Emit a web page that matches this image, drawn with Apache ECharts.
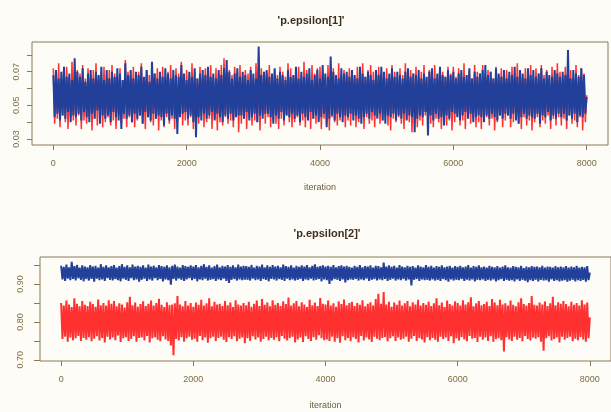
<!DOCTYPE html>
<html>
<head>
<meta charset="utf-8">
<title>trace plots</title>
<script src="https://cdn.jsdelivr.net/npm/echarts@6/dist/echarts.min.js"></script>
<style>
  html, body { margin: 0; padding: 0; background: #fdfcf7; }
  #main { width: 611px; height: 412px; }
</style>
</head>
<body>
<div id="main"></div>
<script>
// thinned chains, one value every 20 iterations (0 .. 8000)
const thin = 20;
const xTicks = [0, 2000, 4000, 6000, 8000];

const eps1Ticks = [0.03, 0.04, 0.05, 0.06, 0.07, 0.08];
const eps1Labels = [0.03, 0.05, 0.07];
const eps2Ticks = [0.70, 0.75, 0.80, 0.85, 0.90, 0.95];
const eps2Labels = [0.70, 0.80, 0.90];

const eps1Red = [
  .072,.039,.068,.042,.075,.037,.066,.044,.070,.040,.073,.036,.067,.043,.076,.041,.065,.038,.071,.044,
  .069,.036,.074,.041,.066,.039,.072,.043,.068,.035,.071,.042,.075,.038,.067,.044,.070,.037,.073,.040,
  .066,.043,.071,.038,.074,.041,.069,.036,.067,.044,.072,.039,.065,.042,.077,.037,.070,.043,.068,.040,
  .073,.037,.067,.041,.070,.044,.075,.039,.066,.036,.071,.043,.068,.040,.074,.038,.069,.042,.072,.035,
  .068,.041,.073,.037,.066,.043,.070,.039,.074,.042,.067,.036,.072,.040,.069,.044,.076,.038,.065,.041,
  .071,.038,.068,.043,.075,.036,.070,.041,.066,.039,.073,.044,.067,.037,.072,.040,.069,.042,.074,.036,
  .067,.042,.072,.035,.069,.040,.074,.038,.078,.043,.066,.039,.071,.041,.068,.037,.073,.044,.070,.034,
  .074,.039,.067,.042,.071,.036,.069,.043,.073,.038,.066,.041,.075,.040,.068,.035,.072,.044,.070,.039,
  .069,.043,.074,.037,.066,.041,.071,.039,.068,.036,.073,.042,.070,.038,.067,.044,.075,.040,.072,.037,
  .066,.040,.070,.043,.073,.038,.068,.041,.076,.037,.071,.044,.067,.036,.074,.042,.069,.039,.072,.041,
  .073,.036,.069,.042,.067,.039,.074,.035,.070,.043,.072,.040,.066,.038,.075,.041,.068,.044,.071,.037,
  .068,.041,.072,.038,.070,.044,.066,.037,.073,.040,.069,.042,.075,.036,.067,.043,.071,.039,.074,.041,
  .070,.037,.067,.043,.073,.039,.069,.041,.066,.044,.072,.038,.068,.035,.074,.042,.070,.040,.067,.043,
  .072,.039,.068,.036,.075,.042,.066,.040,.071,.034,.069,.043,.073,.037,.067,.041,.070,.038,.074,.044,
  .066,.043,.071,.039,.069,.037,.074,.042,.068,.040,.072,.036,.070,.044,.067,.038,.073,.041,.069,.035,
  .073,.040,.067,.044,.072,.038,.069,.041,.075,.036,.068,.043,.071,.039,.066,.042,.074,.037,.070,.040,
  .069,.036,.074,.041,.067,.043,.071,.038,.070,.042,.066,.035,.073,.040,.068,.044,.072,.037,.069,.041,
  .071,.044,.068,.037,.073,.040,.066,.042,.075,.039,.070,.036,.067,.043,.072,.038,.069,.041,.074,.035,
  .067,.040,.072,.043,.069,.037,.074,.041,.068,.039,.071,.044,.066,.036,.073,.042,.070,.038,.075,.043,
  .070,.038,.067,.042,.073,.036,.069,.044,.071,.039,.066,.041,.074,.037,.068,.043,.072,.035,.069,.040,
  .056
];
const eps1Blue = [
  .068,.043,.071,.045,.066,.041,.070,.044,.073,.042,.067,.046,.069,.040,.065,.044,.078,.043,.070,.045,
  .067,.041,.072,.046,.064,.043,.069,.040,.071,.045,.066,.042,.070,.047,.068,.039,.073,.044,.065,.042,
  .071,.044,.066,.040,.070,.046,.067,.043,.072,.041,.069,.036,.065,.045,.075,.042,.068,.044,.071,.040,
  .066,.045,.070,.042,.068,.044,.073,.039,.067,.046,.071,.043,.064,.041,.076,.045,.069,.042,.066,.044,
  .070,.043,.067,.038,.072,.045,.069,.041,.066,.044,.071,.042,.068,.033,.067,.043,.074,.045,.069,.046,
  .065,.042,.070,.044,.067,.040,.072,.031,.066,.043,.069,.041,.071,.045,.068,.042,.073,.044,.067,.046,
  .069,.041,.066,.045,.071,.043,.068,.040,.072,.044,.077,.042,.070,.045,.066,.041,.069,.043,.072,.044,
  .067,.044,.070,.042,.068,.046,.065,.041,.071,.043,.069,.045,.066,.040,.085,.044,.068,.042,.070,.045,
  .071,.045,.067,.043,.069,.039,.072,.044,.066,.042,.070,.046,.068,.041,.065,.044,.071,.043,.067,.045,
  .068,.042,.073,.044,.066,.040,.070,.045,.067,.043,.069,.041,.072,.046,.065,.042,.068,.044,.071,.040,
  .066,.043,.074,.045,.069,.037,.067,.042,.079,.044,.070,.041,.068,.045,.066,.043,.072,.040,.069,.044,
  .070,.043,.067,.045,.071,.041,.068,.044,.066,.042,.073,.039,.069,.043,.067,.045,.070,.042,.068,.046,
  .065,.044,.071,.042,.068,.045,.073,.041,.070,.039,.066,.044,.069,.043,.072,.045,.067,.041,.070,.044,
  .068,.042,.066,.045,.070,.041,.072,.044,.067,.043,.069,.034,.068,.042,.071,.044,.066,.043,.069,.046,
  .067,.032,.070,.044,.072,.041,.066,.045,.069,.042,.073,.043,.068,.038,.067,.044,.071,.042,.068,.046,
  .070,.045,.066,.043,.069,.041,.071,.044,.067,.046,.068,.042,.072,.045,.066,.040,.070,.043,.067,.044,
  .069,.043,.071,.040,.074,.044,.068,.042,.070,.045,.066,.043,.072,.041,.069,.044,.067,.042,.071,.045,
  .066,.044,.070,.042,.068,.045,.073,.041,.067,.039,.071,.043,.069,.045,.066,.042,.072,.044,.068,.043,
  .071,.042,.067,.045,.069,.039,.072,.044,.066,.043,.070,.046,.068,.041,.067,.044,.071,.042,.069,.045,
  .067,.043,.070,.045,.068,.041,.083,.044,.066,.042,.071,.045,.069,.040,.067,.044,.072,.043,.068,.045,
  .055
];
const eps2Blue = [
  .948,.912,.945,.908,.951,.914,.944,.910,.958,.913,.947,.909,.950,.915,.943,.911,.949,.907,.946,.913,
  .944,.909,.950,.913,.946,.906,.948,.914,.943,.910,.952,.912,.945,.908,.949,.915,.944,.911,.947,.909,
  .950,.913,.943,.910,.947,.907,.952,.914,.945,.911,.949,.908,.944,.915,.951,.910,.946,.912,.948,.906,
  .945,.911,.949,.914,.943,.908,.951,.912,.946,.909,.948,.915,.944,.910,.950,.913,.947,.907,.945,.912,
  .949,.910,.944,.898,.948,.913,.951,.909,.946,.914,.943,.911,.950,.908,.947,.912,.945,.915,.949,.910,
  .946,.913,.950,.907,.944,.912,.948,.910,.952,.914,.945,.909,.949,.911,.943,.913,.947,.908,.951,.912,
  .944,.910,.948,.914,.946,.908,.950,.903,.945,.911,.949,.913,.944,.909,.951,.912,.946,.910,.948,.911,
  .947,.911,.945,.909,.950,.914,.943,.910,.948,.912,.946,.908,.951,.913,.944,.911,.949,.907,.945,.913,
  .950,.912,.946,.909,.948,.913,.944,.911,.951,.908,.947,.914,.945,.910,.949,.912,.943,.909,.948,.911,
  .945,.913,.949,.908,.946,.912,.950,.910,.944,.914,.948,.909,.952,.911,.945,.913,.947,.907,.949,.912,
  .946,.910,.948,.900,.945,.909,.950,.913,.944,.911,.947,.908,.949,.912,.946,.904,.948,.910,.945,.912,
  .943,.911,.948,.913,.945,.909,.950,.912,.944,.910,.947,.914,.946,.908,.949,.911,.943,.913,.948,.909,
  .947,.912,.944,.910,.956,.913,.946,.908,.949,.911,.945,.914,.948,.909,.943,.912,.950,.910,.946,.913,
  .944,.909,.948,.912,.945,.896,.947,.911,.943,.913,.949,.908,.946,.912,.944,.910,.950,.911,.945,.909,
  .948,.912,.943,.909,.947,.911,.945,.908,.949,.913,.944,.910,.946,.906,.948,.912,.943,.909,.947,.911,
  .945,.910,.948,.913,.944,.908,.946,.911,.950,.909,.943,.912,.947,.907,.945,.911,.949,.910,.944,.912,
  .946,.908,.943,.911,.948,.909,.945,.912,.944,.907,.947,.910,.943,.913,.946,.908,.949,.911,.944,.909,
  .943,.910,.947,.907,.945,.912,.944,.908,.948,.911,.942,.909,.946,.905,.944,.910,.947,.908,.945,.911,
  .946,.907,.944,.911,.948,.909,.943,.910,.946,.906,.945,.912,.943,.908,.947,.910,.944,.907,.946,.909,
  .944,.910,.947,.906,.943,.909,.946,.911,.944,.907,.948,.910,.943,.908,.945,.911,.944,.906,.947,.910,
  .930
];
const eps2Red = [
  .850,.755,.843,.761,.856,.748,.846,.759,.839,.752,.862,.757,.848,.763,.841,.750,.855,.758,.845,.753,
  .842,.760,.853,.749,.847,.756,.840,.762,.859,.751,.844,.758,.850,.746,.843,.761,.857,.754,.848,.759,
  .855,.752,.841,.764,.849,.747,.846,.757,.838,.760,.852,.750,.866,.755,.844,.762,.851,.748,.840,.758,
  .847,.759,.854,.751,.842,.763,.848,.746,.856,.757,.843,.760,.850,.753,.861,.749,.845,.762,.839,.754,
  .852,.750,.844,.738,.846,.712,.849,.755,.868,.751,.846,.760,.841,.748,.855,.757,.843,.761,.850,.753,
  .840,.756,.851,.748,.845,.763,.858,.752,.843,.759,.849,.745,.862,.757,.841,.761,.853,.750,.846,.758,
  .848,.761,.842,.753,.855,.747,.844,.760,.851,.755,.839,.762,.857,.749,.846,.756,.843,.759,.850,.744,
  .844,.757,.853,.750,.840,.762,.848,.754,.856,.759,.842,.748,.860,.755,.845,.761,.851,.752,.841,.758,
  .857,.753,.845,.760,.850,.749,.842,.763,.854,.756,.847,.751,.864,.758,.843,.761,.849,.746,.855,.754,
  .841,.759,.852,.747,.846,.762,.839,.755,.858,.750,.844,.760,.851,.753,.842,.765,.863,.757,.848,.752,
  .846,.754,.856,.750,.843,.761,.849,.748,.840,.757,.854,.745,.847,.762,.859,.752,.844,.758,.850,.749,
  .853,.760,.842,.755,.850,.746,.845,.763,.857,.751,.841,.759,.848,.754,.852,.747,.843,.761,.860,.756,
  .874,.752,.848,.758,.879,.760,.846,.749,.853,.757,.840,.762,.851,.750,.845,.759,.856,.753,.843,.756,
  .849,.761,.855,.748,.841,.756,.852,.763,.846,.750,.858,.757,.843,.754,.850,.746,.845,.760,.853,.752,
  .842,.758,.849,.753,.862,.748,.844,.761,.851,.755,.839,.759,.856,.750,.847,.762,.843,.744,.854,.757,
  .850,.751,.843,.760,.857,.754,.846,.749,.852,.763,.865,.756,.841,.758,.849,.747,.855,.761,.844,.753,
  .847,.759,.853,.750,.842,.762,.860,.748,.851,.755,.844,.757,.858,.752,.846,.722,.849,.760,.843,.754,
  .856,.750,.845,.761,.841,.753,.852,.758,.862,.749,.847,.763,.843,.755,.850,.751,.868,.759,.845,.756,
  .843,.760,.851,.748,.846,.724,.854,.757,.842,.762,.849,.751,.866,.755,.844,.759,.852,.746,.848,.761,
  .855,.753,.847,.758,.841,.761,.853,.749,.845,.756,.850,.752,.843,.760,.857,.754,.846,.748,.851,.757,
  .812
];

const txt = '#7d6c45';
const frame = '#8c7a55';
const red = '#ff3030';
const blue = '#22409a';

function pairs(arr) {
  return arr.map((v, i) => [i * thin, v]);
}

function xAxisFor(idx, gap) {
  return {
    type: 'value', gridIndex: idx, min: -320, max: 8320,
    name: 'iteration', nameLocation: 'middle', nameGap: gap,
    nameTextStyle: { color: '#6b5a3a', fontSize: 9, fontFamily: 'Liberation Sans' },
    axisLine: { show: false, onZero: false },
    splitLine: { show: false },
    axisTick: { show: true, customValues: xTicks, length: 5, lineStyle: { color: frame } },
    axisLabel: {
      customValues: xTicks, margin: 14, color: txt, fontSize: 9, fontFamily: 'Liberation Sans',
      formatter: v => String(v)
    }
  };
}

function yAxisFor(idx, min, max, ticks, labels, margin, tlen) {
  return {
    type: 'value', gridIndex: idx, min: min, max: max,
    axisLine: { show: false, onZero: false },
    splitLine: { show: false },
    axisTick: { show: true, customValues: ticks, length: tlen, lineStyle: { color: frame } },
    axisLabel: {
      customValues: labels, rotate: 90, margin: margin, color: txt,
      fontSize: 9, fontFamily: 'Liberation Sans',
      formatter: v => v.toFixed(2)
    }
  };
}

function trace(idx, data, color, w) {
  return {
    type: 'line', xAxisIndex: idx, yAxisIndex: idx,
    data: pairs(data), showSymbol: false, symbol: 'none', sampling: null,
    lineStyle: { color: color, width: w }, silent: true
  };
}

const chart = echarts.init(document.getElementById('main'));
chart.setOption({
  backgroundColor: '#fdfcf7',
  animation: false,
  title: [
    { text: "'p.epsilon[1]'", left: 306, textAlign: 'center', top: 10,
      textStyle: { fontSize: 11, fontWeight: 'bold', color: '#3e2f1e', fontFamily: 'Liberation Sans' } },
    { text: "'p.epsilon[2]'", left: 322, textAlign: 'center', top: 223,
      textStyle: { fontSize: 11, fontWeight: 'bold', color: '#3e2f1e', fontFamily: 'Liberation Sans' } }
  ],
  grid: [
    { left: 32, right: 3, top: 42, height: 103, show: true, borderColor: frame, borderWidth: 1, backgroundColor: 'transparent' },
    { left: 40, right: -6, top: 257, height: 104, show: true, borderColor: frame, borderWidth: 1, backgroundColor: 'transparent' }
  ],
  xAxis: [xAxisFor(0, 38), xAxisFor(1, 40)],
  yAxis: [
    yAxisFor(0, 0.0264, 0.0877, eps1Ticks, eps1Labels, 11, 5),
    yAxisFor(1, 0.697, 0.971, eps2Ticks, eps2Labels, 15, 6)
  ],
  series: [
    trace(0, eps1Red, red, 1.5),
    trace(0, eps1Blue, blue, 2.0),
    trace(1, eps2Blue, blue, 2.0),
    trace(1, eps2Red, red, 2.0)
  ]
});
</script>
</body>
</html>
